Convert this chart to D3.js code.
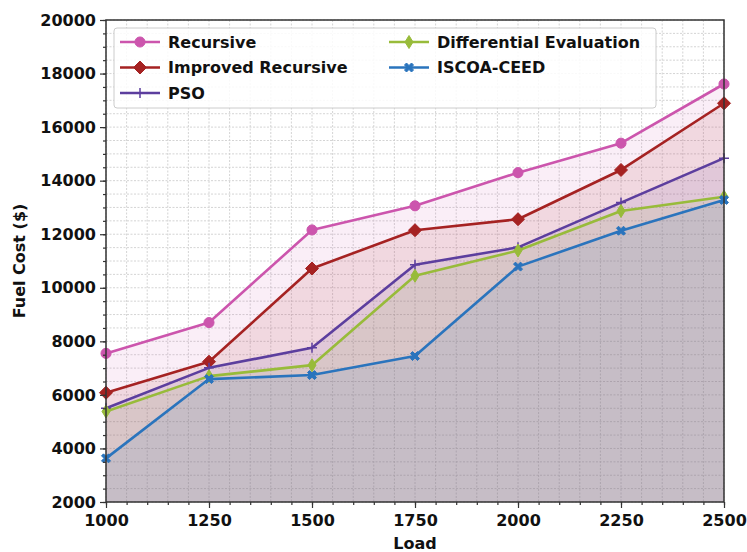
<!DOCTYPE html>
<html>
<head>
<meta charset="utf-8">
<script src="https://cdn.jsdelivr.net/npm/d3@7"></script>
<style>
    body { margin: 0; background: #fff; }
    text { font-family: "DejaVu Sans", sans-serif; font-weight: bold; fill: #111; }
</style>
</head>
<body>
<script>
// data
var loads = [1000, 1250, 1500, 1750, 2000, 2250, 2500];
var seriesNames = ["Recursive", "Improved Recursive", "PSO", "Differential Evaluation", "ISCOA-CEED"];
var recursive = [7550, 8700, 12160, 13060, 14300, 15400, 17610];
var improvedRecursive = [6080, 7240, 10720, 12150, 12560, 14400, 16890];
var pso = [5500, 7010, 7760, 10860, 11510, 13180, 14840];
var diffEval = [5380, 6700, 7110, 10450, 11390, 12870, 13400];
var iscoa = [3630, 6590, 6740, 7450, 10790, 12130, 13280];
var yTicks = [2000, 4000, 6000, 8000, 10000, 12000, 14000, 16000, 18000, 20000];
var xTicks = [1000, 1250, 1500, 1750, 2000, 2250, 2500];

var colours = ["#cc55ad", "#a52222", "#5c3e9e", "#98bb3a", "#2a74bd"];
var markers = ["circle", "diamond", "plus", "thindiamond", "x"];
var values = [recursive, improvedRecursive, pso, diffEval, iscoa];

// dimensions
var width = 747;
var height = 552;
var margin = { top: 20, bottom: 50, left: 106, right: 23 };
var w = width - margin.left - margin.right;
var h = height - margin.top - margin.bottom;

var svg = d3.select("body")
    .append("svg")
    .attr("width", width)
    .attr("height", height)
    .append("g")
    .attr("transform", "translate(" + margin.left + "," + margin.top + ")");

var x = d3.scaleLinear().domain([1000, 2500]).range([0, w]);
var y = d3.scaleLinear().domain([2000, 20000]).range([h, 0]);

// dotted grid on the minor ticks
var xMinor = d3.range(1000, 2501, 50);
var yMinor = d3.range(2000, 20001, 500);
svg.append("g").selectAll("line")
    .data(xMinor)
    .enter().append("line")
    .attr("x1", function(d) { return x(d); })
    .attr("x2", function(d) { return x(d); })
    .attr("y1", 0).attr("y2", h)
    .attr("stroke", "#cfcfcf")
    .attr("stroke-width", 0.9)
    .attr("stroke-dasharray", "2,1.5");
svg.append("g").selectAll("line")
    .data(yMinor)
    .enter().append("line")
    .attr("y1", function(d) { return y(d); })
    .attr("y2", function(d) { return y(d); })
    .attr("x1", 0).attr("x2", w)
    .attr("stroke", "#cfcfcf")
    .attr("stroke-width", 0.9)
    .attr("stroke-dasharray", "2,1.5");

// build one object per series
var series = seriesNames.map(function(name, i) {
    return {
        name: name,
        colour: colours[i],
        marker: markers[i],
        points: loads.map(function(l, j) { return { x: l, y: values[i][j] }; })
    };
});

// translucent fills down to the bottom of the axis
var area = d3.area()
    .x(function(d) { return x(d.x); })
    .y0(h)
    .y1(function(d) { return y(d.y); });
svg.append("g").selectAll("path")
    .data(series)
    .enter().append("path")
    .attr("d", function(d) { return area(d.points); })
    .attr("fill", function(d) { return d.colour; })
    .attr("fill-opacity", 0.1);

var line = d3.line()
    .x(function(d) { return x(d.x); })
    .y(function(d) { return y(d.y); });

// marker shapes
function markerPath(type) {
    if (type == "circle") return d3.symbol(d3.symbolCircle, 80)();
    if (type == "diamond") return "M0,-6.5L6.5,0L0,6.5L-6.5,0Z";
    if (type == "thindiamond") return "M0,-6.5L4,0L0,6.5L-4,0Z";
    if (type == "plus") return "M-5,0L5,0M0,-5L0,5";
    if (type == "x") return "M-4.5,-2.5L-2.5,-4.5L0,-2L2.5,-4.5L4.5,-2.5L2,0L4.5,2.5L2.5,4.5L0,2L-2.5,4.5L-4.5,2.5L-2,0Z";
}

function drawMarker(g, colour, type) {
    g.append("path")
        .attr("d", markerPath(type))
        .attr("fill", type == "plus" ? "none" : colour)
        .attr("stroke", colour)
        .attr("stroke-width", type == "plus" ? 1.5 : 1);
}

var lines = svg.append("g").selectAll("g")
    .data(series)
    .enter().append("g");

lines.append("path")
    .attr("d", function(d) { return line(d.points); })
    .attr("fill", "none")
    .attr("stroke", function(d) { return d.colour; })
    .attr("stroke-width", 2.6)
    .attr("stroke-linejoin", "round");

lines.each(function(s) {
    var g = d3.select(this);
    s.points.forEach(function(p) {
        var m = g.append("g").attr("transform", "translate(" + x(p.x) + "," + y(p.y) + ")");
        drawMarker(m, s.colour, s.marker);
    });
});

// axes with minor ticks
var axisColour = "#333";
var xAxis = svg.append("g")
    .attr("transform", "translate(0," + h + ")")
    .call(d3.axisBottom(x).tickValues(xTicks).tickSize(6).tickPadding(7).tickFormat(d3.format("d")));
var yAxis = svg.append("g")
    .call(d3.axisLeft(y).tickValues(yTicks).tickSize(6).tickPadding(4).tickFormat(d3.format("d")));
svg.append("g")
    .attr("transform", "translate(0," + h + ")")
    .call(d3.axisBottom(x).tickValues(xMinor).tickSize(3).tickFormat(""))
    .call(function(g) { g.select(".domain").remove(); });
svg.append("g")
    .call(d3.axisLeft(y).tickValues(yMinor).tickSize(3).tickFormat(""))
    .call(function(g) { g.select(".domain").remove(); });

svg.selectAll(".tick line").attr("stroke", axisColour).attr("stroke-width", 1.2);
svg.selectAll(".domain").remove();
xAxis.selectAll("text").style("font-size", "16px");
yAxis.selectAll("text").style("font-size", "16px");

// frame
svg.append("rect")
    .attr("width", w)
    .attr("height", h)
    .attr("fill", "none")
    .attr("stroke", axisColour)
    .attr("stroke-width", 1.5);

// axis labels
svg.append("text")
    .attr("x", w / 2)
    .attr("y", h + 47)
    .attr("text-anchor", "middle")
    .style("font-size", "16px")
    .text("Load");
svg.append("text")
    .attr("transform", "translate(" + (-81) + "," + (h / 2) + ") rotate(-90)")
    .attr("text-anchor", "middle")
    .style("font-size", "16px")
    .text("Fuel Cost ($)");

// legend
var legend = svg.append("g").attr("transform", "translate(8,8)");
legend.append("rect")
    .attr("width", 542)
    .attr("height", 80)
    .attr("rx", 3)
    .attr("fill", "#fff")
    .attr("fill-opacity", 0.85)
    .attr("stroke", "#cccccc")
    .attr("stroke-width", 1);

var legendPos = [[0, 0], [0, 1], [0, 2], [1, 0], [1, 1]];
series.forEach(function(s, i) {
    var col = legendPos[i][0];
    var row = legendPos[i][1];
    var lx = col == 0 ? 6 : 275;
    var ly = 14 + row * 25.5;
    var item = legend.append("g").attr("transform", "translate(" + lx + "," + ly + ")");
    item.append("line")
        .attr("x1", 0).attr("x2", 40)
        .attr("stroke", s.colour)
        .attr("stroke-width", 2.6);
    var m = item.append("g").attr("transform", "translate(20,0)");
    drawMarker(m, s.colour, s.marker);
    item.append("text")
        .attr("x", 48)
        .attr("dy", "0.35em")
        .style("font-size", "16px")
        .text(s.name);
});
</script>
</body>
</html>
